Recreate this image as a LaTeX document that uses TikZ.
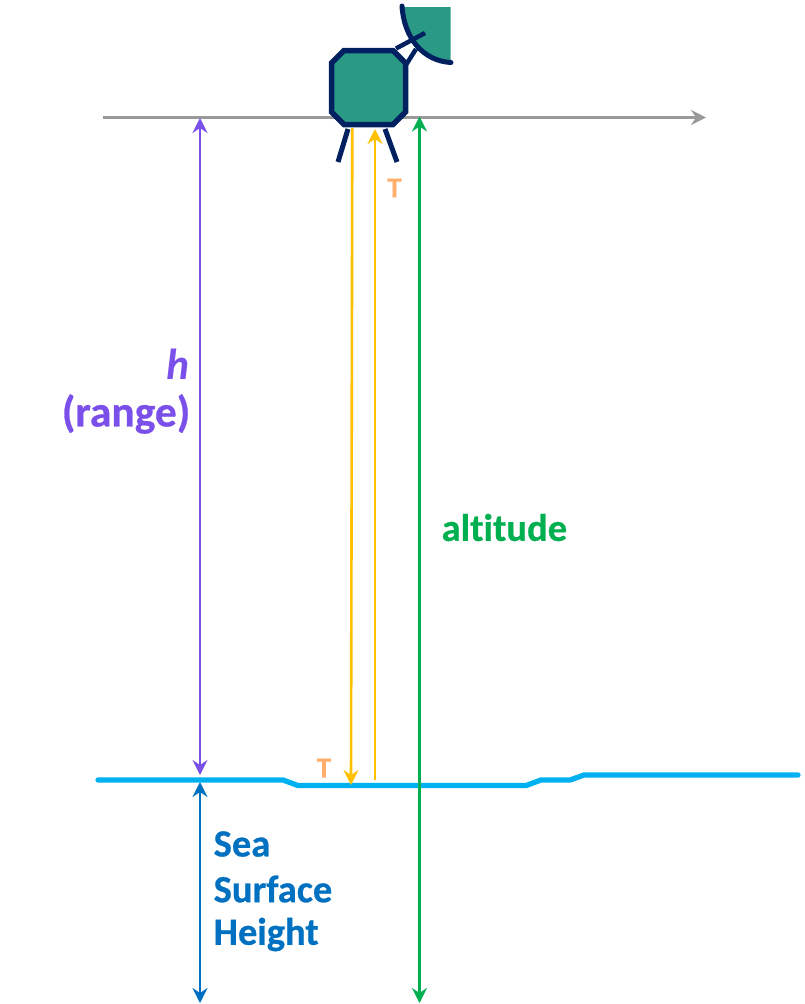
\documentclass[tikz,border=0pt]{standalone}
\usepackage{fontspec}
\setmainfont{Carlito}[Ligatures=NoCommon,BoldFeatures={FakeBold=0.6}]
\usetikzlibrary{arrows.meta}
\definecolor{gr}{HTML}{9A9A9A}
\definecolor{pur}{HTML}{7B4FE9}
\definecolor{yel}{HTML}{FFC000}
\definecolor{grn}{HTML}{00B050}
\definecolor{blu}{HTML}{0070C0}
\definecolor{sea}{HTML}{00B0F0}
\definecolor{nav}{HTML}{002060}
\definecolor{teal}{HTML}{2A9A87}
\definecolor{org}{HTML}{FFAF6B}
\tikzset{
 tip/.style={-{Stealth[length=15pt,width=15pt,inset=5pt]}},
 dbl/.style={{Stealth[length=15pt,width=15pt,inset=5pt]}-{Stealth[length=15pt,width=15pt,inset=5pt]}},
 lbl/.style={font=\bfseries\fontsize{38.5}{42}\selectfont,inner sep=0pt},
 rlbl/.style={font=\bfseries\fontsize{43.5}{46}\selectfont,inner sep=0pt},
 tlbl/.style={font=\bfseries\fontsize{29}{30}\selectfont,text=org,inner sep=0pt},
 navline/.style={draw=nav,line width=5pt},
}
\begin{document}
\begin{tikzpicture}[x=1pt,y=-1pt]
\useasboundingbox (0,0) rectangle (805,1004);
% orbit line
\coordinate (o1) at (103,117.5); \coordinate (o2) at (706,117.5);
\draw[gr,line width=2.7pt,tip] (o1) -- (o2);
% dish
\fill[teal] (403,7) -- (450.5,7) -- (450.5,62) .. controls (425,60) and (407,40) .. (403,7) -- cycle;
\coordinate (f1) at (396,48.5); \coordinate (f2) at (425,33);
\coordinate (f3) at (404,68); \coordinate (f4) at (416,49);
\draw[navline,line width=4.5pt] (f1) -- (f2);
\draw[navline,line width=4.5pt] (f3) -- (f4);
\draw[navline,line cap=round] (402,6) .. controls (404,38) and (423,61) .. (451,62.5);
% body
\draw[navline,line width=5.5pt,fill=teal,line join=miter] (344,50.5) -- (393,50.5) -- (405.5,63) -- (405.5,112) -- (393,124.5) -- (344,124.5) -- (331.5,112) -- (331.5,63) -- cycle;
% legs
\coordinate (l1) at (348,129); \coordinate (l2) at (338,162);
\coordinate (l3) at (385,129); \coordinate (l4) at (397,162);
\draw[navline] (l1) -- (l2);
\draw[navline] (l3) -- (l4);
% sea surface
\draw[sea,line width=5.3pt,line cap=round,line join=round] (98,780) -- (283,780) -- (298,785.5) -- (526,785.5) -- (541,780) -- (570,780) -- (584,775) -- (798,775);
% arrows
\coordinate (p1) at (200,118); \coordinate (p2) at (200,775);
\draw[pur,line width=2.6pt,dbl] (p1) -- (p2);
\coordinate (y1) at (352.3,128); \coordinate (y2) at (351,785);
\draw[yel,line width=2.6pt,tip] (y1) -- (y2);
\coordinate (y3) at (375,780); \coordinate (y4) at (375,129);
\draw[yel,line width=2.6pt,tip] (y3) -- (y4);
\coordinate (g1) at (419.5,116.5); \coordinate (g2) at (419.5,1003);
\draw[grn,line width=2.6pt,dbl] (g1) -- (g2);
\coordinate (b1) at (200,782); \coordinate (b2) at (200,1003);
\draw[blu,line width=2.6pt,dbl] (b1) -- (b2);
% labels
\node[rlbl,text=pur,anchor=east] (h) at (190,364.5) {\itshape h};
\node[rlbl,text=pur,anchor=east] (r) at (190.5,414) {(range)};
\node[lbl,text=grn,anchor=west] (alt) at (441.5,527.5) {altitude};
\node[lbl,text=blu,anchor=west] (s1) at (213.5,844) {Sea};
\node[lbl,text=blu,anchor=west] (s2) at (213.5,889) {Surface};
\node[lbl,text=blu,anchor=west] (s3) at (213.5,934.5) {Height};
\node[tlbl] (t1) at (394.5,188) {T};
\node[tlbl] (t2) at (324,768) {T};
\end{tikzpicture}
\end{document}
